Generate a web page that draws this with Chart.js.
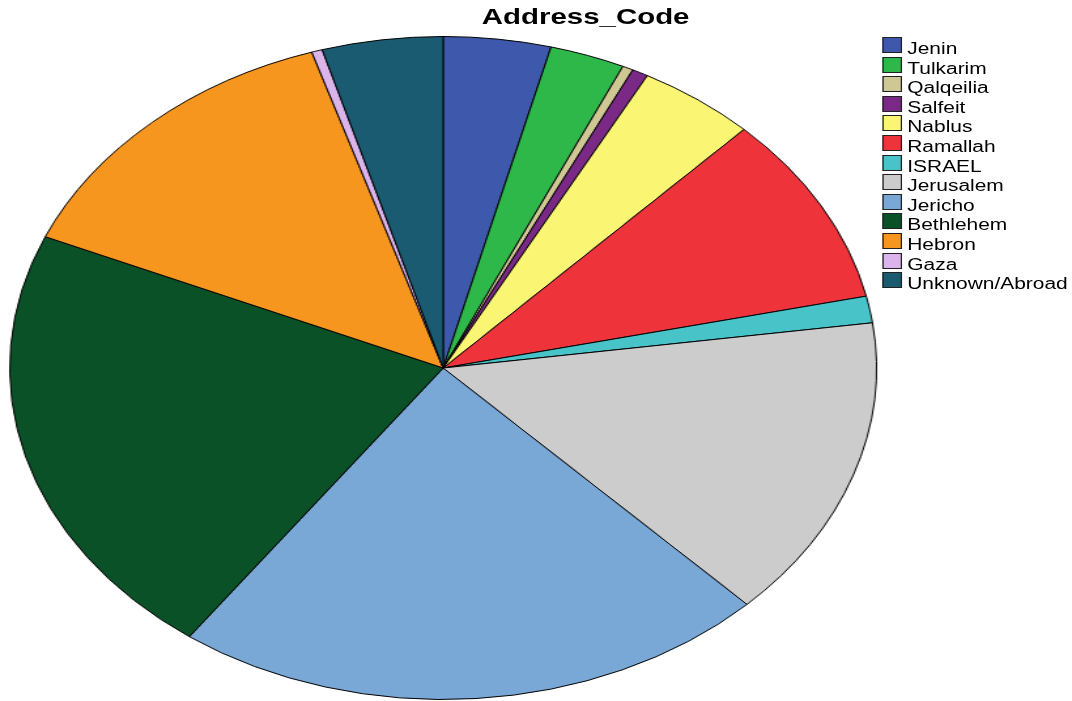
<!DOCTYPE html>
<html>
<head>
<meta charset="utf-8">
<script src="https://cdn.jsdelivr.net/npm/chart.js@4.4.1/dist/chart.umd.min.js"></script>
<style>
  html, body { margin: 0; padding: 0; background: #fff; }
  #stage {
    position: absolute; left: 0; top: 0;
    width: 820px; height: 701px;
    transform: scaleX(1.3073); transform-origin: 0 0;
    font-family: "Liberation Sans", Arial, sans-serif;
  }
  #pie { position: absolute; left: 0; top: 0; }
  #title {
    position: absolute; left: 0; top: 4px; width: 896px;
    text-align: center; font-weight: bold; font-size: 22.5px; line-height: 26px; color: #000;
  }
  .row { position: absolute; left: 675px; height: 20px; width: 150px; }
  .box { position: absolute; left: 0; top: 0; width: 13px; height: 14px; border: 1px solid #222; }
  .lbl { position: absolute; left: 19px; top: 2px; font-size: 16px; line-height: 20px; color: #000; white-space: nowrap; }
</style>
</head>
<body>
<div id="stage">
  <canvas id="pie" width="820" height="701"></canvas>
  <div id="title">Address_Code</div>
  <div id="legend"></div>
</div>
<script>
// percent of cases per address
const districts = ["Jenin", "Tulkarim", "Qalqeilia", "Salfeit", "Nablus", "Ramallah", "ISRAEL",
  "Jerusalem", "Jericho", "Bethlehem", "Hebron", "Gaza", "Unknown/Abroad"];
const shares = [4.0, 2.8, 0.4, 0.6, 4.4, 9.3, 1.3, 14.8, 22.3, 21.5, 13.6, 0.4, 4.5];
const sliceColors = ["#3e58ac", "#2fb84a", "#d0c894", "#7a2a86", "#fbf574", "#ef333b", "#48c3c7",
  "#cccccc", "#7aa8d6", "#0b5128", "#f7961e", "#dcb4ec", "#1a5b72"];

// legend
const legend = document.getElementById("legend");
districts.forEach(function (name, i) {
  const row = document.createElement("div");
  row.className = "row";
  row.style.top = (37 + i * 19.6) + "px";
  row.innerHTML = '<div class="box" style="background:' + sliceColors[i] + '"></div>' +
    '<span class="lbl">' + name + '</span>';
  legend.appendChild(row);
});

new Chart("pie", {
  type: "pie",
  data: {
    labels: districts,
    datasets: [{
      data: shares,
      backgroundColor: sliceColors,
      borderColor: "#000",
      borderWidth: 1,
    }],
  },
  options: {
    responsive: false,
    animation: false,
    devicePixelRatio: 1,
    layout: { padding: { left: 7, right: 149, top: 36, bottom: 1 } },
    plugins: {
      legend: { display: false },
      title: { display: false },
      tooltip: { enabled: false },
    },
  },
});
</script>
</body>
</html>
